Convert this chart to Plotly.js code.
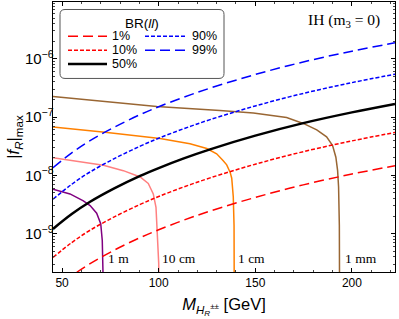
<!DOCTYPE html>
<html>
<head>
<meta charset="utf-8">
<script src="https://cdn.plot.ly/plotly-3.0.1.min.js"></script>
<style>html,body{margin:0;padding:0;background:#fff}#chart{width:399px;height:319px}</style>
</head>
<body>
<div id="chart"></div>
<script>
// ---- data ----
var brM = [45.3, 55, 64.5, 77, 90.4, 100, 113, 126.6, 150, 174.8, 200, 222.3];
var br1  = [1.05e-10, 1.88e-10, 3.05e-10, 5.19e-10, 8.51e-10, 1.16e-9, 1.70e-9, 2.43e-9, 4.17e-9, 6.84e-9, 1.05e-8, 1.46e-8];
var br10 = [3.89e-10, 7.00e-10, 1.14e-9, 1.93e-9, 3.16e-9, 4.32e-9, 6.31e-9, 9.02e-9, 1.55e-8, 2.54e-8, 3.89e-8, 5.43e-8];
var br50 = [1.20e-9, 2.16e-9, 3.51e-9, 5.96e-9, 9.77e-9, 1.33e-8, 1.95e-8, 2.79e-8, 4.79e-8, 7.85e-8, 1.20e-7, 1.68e-7];
var br90 = [3.89e-9, 7.00e-9, 1.14e-8, 1.93e-8, 3.16e-8, 4.32e-8, 6.31e-8, 9.02e-8, 1.55e-7, 2.54e-7, 3.89e-7, 5.43e-7];
var br99 = [1.35e-8, 2.43e-8, 3.94e-8, 6.68e-8, 1.10e-7, 1.50e-7, 2.19e-7, 3.13e-7, 5.37e-7, 8.81e-7, 1.35e-6, 1.88e-6];

var mmM = [45.3, 72, 99, 131.7, 149, 166.2, 174.8, 181.8, 186.9, 190.0, 191.7, 192.6, 193.1, 193.5, 193.6];
var mmF = [2.24e-7, 1.82e-7, 1.51e-7, 1.29e-7, 1.17e-7, 9.77e-8, 7.76e-8, 6.03e-8, 4.57e-8, 3.24e-8, 2.04e-8, 1.20e-8, 6.31e-9, 1.38e-9, 1e-10];
var cmM = [45.3, 72.2, 100.7, 116.2, 124.9, 130, 133.4, 135.2, 137.0, 137.8, 138.6, 139.0, 139.1];
var cmF = [6.76e-8, 5.50e-8, 4.27e-8, 3.47e-8, 2.88e-8, 2.34e-8, 1.78e-8, 1.51e-8, 1.12e-8, 8.91e-9, 4.27e-9, 1.38e-9, 1e-10];
var dcmM = [45.3, 71.4, 81.7, 90.4, 94.6, 97.2, 98.6, 99.3, 100.0, 100.2];
var dcmF = [2.0e-8, 1.48e-8, 1.20e-8, 9.33e-9, 7.24e-9, 4.79e-9, 2.82e-9, 1.12e-9, 3.16e-10, 1e-10];
var mM = [45.3, 54.1, 61, 64.5, 67.9, 70, 70.8, 71.2, 71.4];
var mF = [5.75e-9, 4.79e-9, 3.63e-9, 3.02e-9, 2.24e-9, 1.48e-9, 7.59e-10, 3.55e-10, 1e-10];

var brLabels = ['1%', '10%', '50%', '90%', '99%'];
var decayLabels = ['1 m', '10 cm', '1 cm', '1 mm'];
var decayLabelX = [73.1, 101.1, 140.6, 196.0];
var decayLabelY = 3.8e-10;
var xTicks = [50, 100, 150, 200];

// ---- layout helpers (pixel -> paper) ----
var L = 53, R = 395, T = 1.5, B = 271.7;
function px(x) { return (x - L) / (R - L); }
function py(y) { return 1 - (y - T) / (B - T); }

var redC = '#FF0000', blueC = '#0000FF';
var longDash = '10px,5px', shortDash = '4px,2px';

var traces = [
  {x: mM, y: mF, mode: 'lines', line: {color: '#800080', width: 1.5}},
  {x: dcmM, y: dcmF, mode: 'lines', line: {color: '#FF8080', width: 1.5}},
  {x: cmM, y: cmF, mode: 'lines', line: {color: '#FF8000', width: 1.5}},
  {x: mmM, y: mmF, mode: 'lines', line: {color: '#996633', width: 1.5}},
  {x: brM, y: br1, name: brLabels[0], mode: 'lines', line: {color: redC, width: 1.5, dash: longDash, shape: 'spline'}},
  {x: brM, y: br10, name: brLabels[1], mode: 'lines', line: {color: redC, width: 1.5, dash: shortDash, shape: 'spline'}},
  {x: brM, y: br50, name: brLabels[2], mode: 'lines', line: {color: '#000000', width: 2.5, shape: 'spline'}},
  {x: brM, y: br90, name: brLabels[3], mode: 'lines', line: {color: blueC, width: 1.5, dash: shortDash, shape: 'spline'}},
  {x: brM, y: br99, name: brLabels[4], mode: 'lines', line: {color: blueC, width: 1.5, dash: longDash, shape: 'spline'}}
];

// legend drawn manually (two columns in a rounded box)
var bx0 = px(60), bx1 = px(224), by0 = py(9), by1 = py(78);
var rx = 5 / (R - L), ry = 5 / (B - T);
var boxPath = 'M' + (bx0 + rx) + ',' + by0 + ' L' + (bx1 - rx) + ',' + by0 +
  ' Q' + bx1 + ',' + by0 + ' ' + bx1 + ',' + (by0 - ry) +
  ' L' + bx1 + ',' + (by1 + ry) + ' Q' + bx1 + ',' + by1 + ' ' + (bx1 - rx) + ',' + by1 +
  ' L' + (bx0 + rx) + ',' + by1 + ' Q' + bx0 + ',' + by1 + ' ' + bx0 + ',' + (by1 + ry) +
  ' L' + bx0 + ',' + (by0 - ry) + ' Q' + bx0 + ',' + by0 + ' ' + (bx0 + rx) + ',' + by0 + ' Z';

var legItems = [
  {col: 0, row: 0, color: redC, dash: longDash, w: 1.5, label: brLabels[0]},
  {col: 0, row: 1, color: redC, dash: shortDash, w: 1.5, label: brLabels[1]},
  {col: 0, row: 2, color: '#000000', dash: 'solid', w: 2.5, label: brLabels[2]},
  {col: 1, row: 0, color: blueC, dash: shortDash, w: 1.5, label: brLabels[3]},
  {col: 1, row: 1, color: blueC, dash: longDash, w: 1.5, label: brLabels[4]}
];
var colLine = [[68, 107], [145, 185]], colText = [111, 190.5], rowY = [35.7, 49.7, 63.5];

var shapes = [{type: 'path', xref: 'paper', yref: 'paper', path: boxPath,
  line: {color: '#555555', width: 1}, fillcolor: 'rgba(255,255,255,0.9)', layer: 'above'}];
var annotations = [];
var legFont = {family: 'Liberation Sans, Arial, sans-serif', size: 12.5, color: '#000'};
legItems.forEach(function (it) {
  shapes.push({type: 'line', xref: 'paper', yref: 'paper', layer: 'above',
    x0: px(colLine[it.col][0]), x1: px(colLine[it.col][1]), y0: py(rowY[it.row]), y1: py(rowY[it.row]),
    line: {color: it.color, width: it.w, dash: it.dash}});
  annotations.push({xref: 'paper', yref: 'paper', x: px(colText[it.col]), y: py(rowY[it.row]),
    xanchor: 'left', yanchor: 'middle', showarrow: false, text: it.label, borderpad: 0,
    font: legFont});
});
annotations.push({xref: 'paper', yref: 'paper', x: px(141.7), y: py(23), xanchor: 'center', yanchor: 'middle',
  showarrow: false, text: 'BR(<i>ll</i>)', borderpad: 0,
  font: {family: 'Liberation Sans, Arial, sans-serif', size: 13.5, color: '#000'}});
annotations.push({xref: 'paper', yref: 'paper', x: px(381), y: py(20), xanchor: 'right', yanchor: 'middle',
  showarrow: false, text: 'IH (m<sub>3</sub> = 0)', borderpad: 0,
  font: {family: 'Liberation Serif, Times New Roman, serif', size: 15.5, color: '#000'}});
decayLabels.forEach(function (t, i) {
  annotations.push({x: decayLabelX[i], y: Math.log10(decayLabelY), xanchor: 'left', yanchor: 'middle',
    showarrow: false, text: t, borderpad: 0,
    font: {family: 'Liberation Serif, Times New Roman, serif', size: 13.5, color: '#000'}});
});

var axFont = {family: 'Liberation Sans, Arial, sans-serif', size: 12, color: '#000'};
var titleFont = {family: 'Liberation Sans, Arial, sans-serif', size: 16.5, color: '#000'};
var layout = {
  width: 399, height: 319,
  margin: {l: L, r: 399 - R, t: T, b: 319 - B},
  paper_bgcolor: '#fff', plot_bgcolor: '#fff',
  showlegend: false,
  xaxis: {
    range: [45.3, 222.3], tickvals: xTicks, ticks: 'inside', ticklen: 4, tickcolor: '#000',
    showline: true, linecolor: '#000', linewidth: 1, mirror: 'allticks', showgrid: false, zeroline: false,
    minor: {dtick: 10, ticks: 'inside', ticklen: 2, tickcolor: '#444'},
    tickfont: axFont, automargin: false,
    title: {text: '<i>M</i><sub><i>H</i><sub><i>R</i></sub><sup>±±</sup></sub> [GeV]', font: titleFont, standoff: 9}
  },
  yaxis: {
    type: 'log', range: [-9.66, -5.026], dtick: 1, exponentformat: 'power', showexponent: 'all',
    ticks: 'inside', ticklen: 4, tickcolor: '#000', ticklabelstandoff: -4,
    showline: true, linecolor: '#000', linewidth: 1, mirror: 'allticks', showgrid: false, zeroline: false,
    minor: {dtick: 'D1', ticks: 'inside', ticklen: 2, tickcolor: '#444'},
    tickfont: axFont, automargin: false,
    title: {text: '|<i>f</i><sub><i>R</i></sub>|<sub>max</sub>', font: titleFont, standoff: 0}
  },
  shapes: shapes,
  annotations: annotations
};

Plotly.newPlot('chart', traces, layout, {staticPlot: true, displayModeBar: false});
</script>
</body>
</html>
